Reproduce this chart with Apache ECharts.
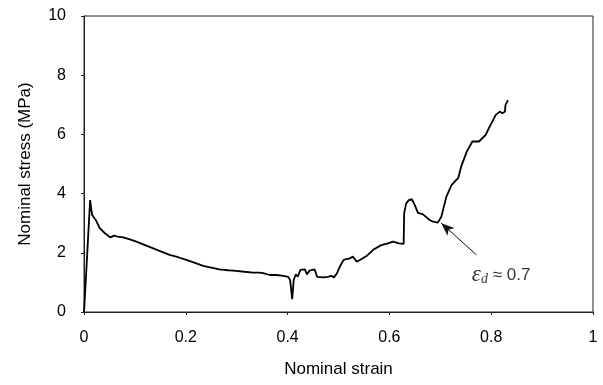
<!DOCTYPE html>
<html>
<head>
<meta charset="utf-8">
<script src="https://cdn.jsdelivr.net/npm/echarts@6/dist/echarts.min.js"></script>
<style>
  html, body { margin: 0; padding: 0; background: #fff; }
  #chart { width: 603px; height: 385px; }
</style>
</head>
<body>
<div id="chart"></div>
<script>
// nominal strain (x) / nominal stress in MPa (y)
const strain = [0, 0.003, 0.012, 0.014, 0.016, 0.023, 0.031, 0.041, 0.052, 0.059,
  0.066, 0.077, 0.09, 0.103, 0.12, 0.136, 0.152, 0.168, 0.185, 0.201,
  0.218, 0.234, 0.25, 0.266, 0.283, 0.299, 0.315, 0.332, 0.345, 0.352,
  0.365, 0.378, 0.392, 0.401, 0.405, 0.409, 0.412, 0.416, 0.42, 0.425,
  0.434, 0.438, 0.443, 0.453, 0.458, 0.47, 0.479, 0.486, 0.491, 0.497,
  0.502, 0.51, 0.522, 0.528, 0.536, 0.542, 0.555, 0.568, 0.584, 0.597,
  0.607, 0.619, 0.628, 0.629, 0.633, 0.638, 0.644, 0.65, 0.656, 0.666,
  0.679, 0.686, 0.695, 0.702, 0.712, 0.722, 0.728, 0.735, 0.741, 0.752,
  0.763, 0.776, 0.789, 0.797, 0.809, 0.817, 0.822, 0.827, 0.828, 0.833]
const stress = [0, 0.9, 3.78, 3.5, 3.28, 3.11, 2.83, 2.66, 2.52, 2.58,
  2.55, 2.52, 2.45, 2.38, 2.26, 2.15, 2.04, 1.93, 1.85, 1.76,
  1.66, 1.56, 1.5, 1.44, 1.41, 1.39, 1.36, 1.33, 1.33, 1.31,
  1.25, 1.25, 1.22, 1.19, 1.08, 0.43, 1.08, 1.27, 1.19, 1.42,
  1.44, 1.27, 1.40, 1.44, 1.19, 1.17, 1.19, 1.22, 1.17, 1.31,
  1.51, 1.76, 1.81, 1.87, 1.70, 1.76, 1.89, 2.10, 2.26, 2.32,
  2.38, 2.32, 2.30, 3.33, 3.67, 3.78, 3.81, 3.61, 3.35, 3.30,
  3.11, 3.05, 3.02, 3.22, 3.90, 4.29, 4.40, 4.52, 4.91, 5.42,
  5.76, 5.76, 5.98, 6.26, 6.66, 6.77, 6.71, 6.77, 6.99, 7.16]

const xTicks = [0, 0.2, 0.4, 0.6, 0.8, 1]
const yTicks = [0, 2, 4, 6, 8, 10]

// annotation: arrow from label towards the densification point
const arrowFrom = [0.771, 1.93]
const arrowTo = [0.702, 3.0]
const labelAt = [0.762, 1.25]

const sans = '"Liberation Sans", Arial, sans-serif'
const serif = '"Liberation Serif", "Times New Roman", serif'

const myChart = echarts.init(document.getElementById('chart'))

const option = {
  animation: false,
  backgroundColor: '#fff',
  grid: {
    left: 84,
    right: 10,
    top: 16,
    bottom: 73,
    show: true,
    borderColor: '#222',
    borderWidth: 1,
  },
  xAxis: {
    type: 'value',
    min: xTicks[0],
    max: xTicks[xTicks.length - 1],
    interval: 0.2,
    name: 'Nominal strain',
    nameLocation: 'middle',
    nameGap: 49,
    nameTextStyle: { color: '#000', fontSize: 17, fontFamily: sans },
    axisLine: { lineStyle: { color: '#222', width: 1 } },
    axisTick: { show: true, length: 3, lineStyle: { color: '#222' } },
    axisLabel: {
      color: '#000',
      fontSize: 16,
      fontFamily: sans,
      margin: 18,
      formatter: (v) => String(v),
    },
    splitLine: { show: false },
  },
  yAxis: {
    type: 'value',
    min: yTicks[0],
    max: yTicks[yTicks.length - 1],
    interval: 2,
    name: 'Nominal stress (MPa)',
    nameLocation: 'middle',
    nameGap: 50,
    nameTextStyle: { color: '#000', fontSize: 17, fontFamily: sans },
    axisLine: { show: true, lineStyle: { color: '#222', width: 1 } },
    axisTick: { show: true, length: 3, lineStyle: { color: '#222' } },
    axisLabel: { color: '#000', fontSize: 16, fontFamily: sans, margin: 18 },
    splitLine: { show: false },
  },
  series: [
    {
      name: 'stress',
      type: 'line',
      data: strain.map((x, i) => [x, stress[i]]),
      showSymbol: false,
      smooth: false,
      lineStyle: { color: '#000', width: 1.8 },
      markLine: {
        silent: true,
        animation: false,
        label: { show: false },
        lineStyle: { color: '#111', width: 1, type: 'solid' },
        symbol: ['none', 'arrow'],
        symbolSize: [8, 13],
        data: [[{ coord: arrowFrom }, { coord: arrowTo }]],
      },
    },
    {
      name: 'label',
      type: 'scatter',
      data: [labelAt],
      symbolSize: 0,
      silent: true,
      label: {
        show: true,
        position: 'right',
        distance: 0,
        color: '#000',
        formatter: '{e|ε}{d|d}{t| ≈ 0.7}',
        rich: {
          e: { fontFamily: serif, fontStyle: 'italic', fontSize: 23, color: '#000' },
          d: { fontFamily: serif, fontStyle: 'italic', fontSize: 14, color: '#000', padding: [8, 0, 0, 0] },
          t: { fontFamily: sans, fontSize: 17, color: '#000' },
        },
      },
    },
  ],
}

option && myChart.setOption(option)
</script>
</body>
</html>
